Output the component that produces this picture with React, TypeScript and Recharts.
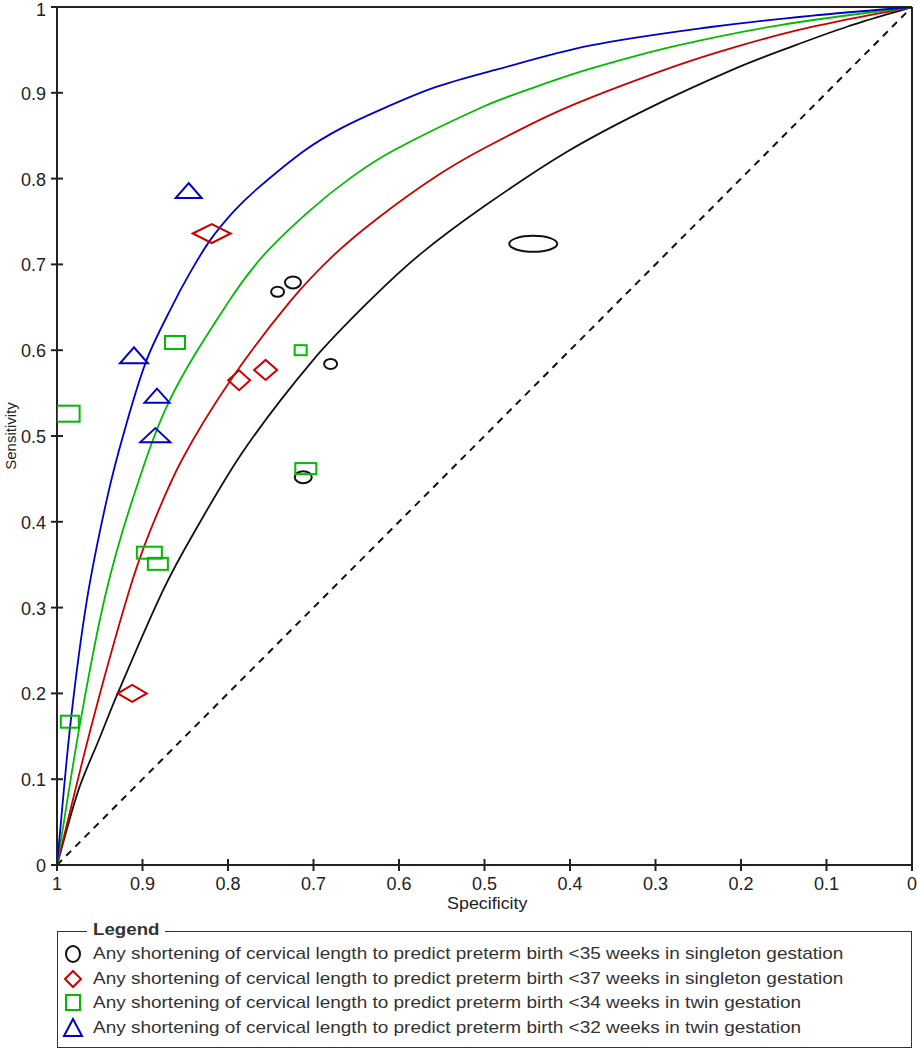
import React from "react";
import {
  ComposedChart,
  Line,
  Scatter,
  XAxis,
  YAxis,
  ReferenceLine,
} from "recharts";

// ---- Axis ticks ----
const axisTicks = [0, 0.1, 0.2, 0.3, 0.4, 0.5, 0.6, 0.7, 0.8, 0.9, 1];

// ---- SROC curves (specificity, sensitivity) ----
const blackCurveSpec = [1, 0.975, 0.951, 0.929, 0.876, 0.84, 0.781, 0.7, 0.634, 0.575, 0.5, 0.404, 0.31, 0.205, 0.143, 0.076, 0];
const blackCurveSens = [0, 0.087, 0.146, 0.2, 0.32, 0.387, 0.484, 0.589, 0.658, 0.712, 0.768, 0.831, 0.881, 0.929, 0.953, 0.977, 1];

const redCurveSpec = [1, 0.959, 0.917, 0.892, 0.854, 0.797, 0.728, 0.676, 0.626, 0.559, 0.501, 0.408, 0.283, 0.201, 0.116, 0];
const redCurveSens = [0, 0.165, 0.315, 0.387, 0.472, 0.565, 0.656, 0.711, 0.753, 0.801, 0.835, 0.881, 0.929, 0.955, 0.977, 1];

const greenCurveSpec = [1, 0.973, 0.944, 0.912, 0.868, 0.801, 0.758, 0.704, 0.655, 0.606, 0.501, 0.44, 0.373, 0.275, 0.154, 0];
const greenCurveSens = [0, 0.165, 0.312, 0.425, 0.542, 0.654, 0.711, 0.763, 0.802, 0.833, 0.884, 0.907, 0.929, 0.955, 0.979, 1];

const blueCurveSpec = [1, 0.984, 0.965, 0.942, 0.922, 0.895, 0.864, 0.844, 0.821, 0.793, 0.766, 0.71, 0.669, 0.62, 0.559, 0.49, 0.377, 0.233, 0.116, 0];
const blueCurveSens = [0, 0.167, 0.309, 0.425, 0.503, 0.589, 0.654, 0.691, 0.728, 0.762, 0.788, 0.833, 0.858, 0.881, 0.906, 0.926, 0.955, 0.977, 0.99, 1];

const diagSpec = [1, 0];
const diagSens = [0, 1];

// ---- Study estimates ----
// <35 weeks singleton (circles)
const s35Spec = [0.742, 0.724, 0.68, 0.712, 0.443];
const s35Sens = [0.668, 0.679, 0.584, 0.452, 0.724];
const s35WNeg = [13, 16, 13, 17, 48];
const s35WPos = [10, 12, 10, 12, 16];

// <37 weeks singleton (diamonds)
const s37Spec = [0.819, 0.787, 0.756, 0.912];
const s37Sens = [0.736, 0.565, 0.577, 0.2];
const s37WNeg = [38, 22, 23, 29];
const s37WPos = [19, 20, 20, 17];

// <34 weeks twin (rectangles)
const t34Spec = [0.862, 0.987, 0.715, 0.709, 0.892, 0.882, 0.985];
const t34Sens = [0.609, 0.526, 0.6, 0.462, 0.364, 0.351, 0.167];
const t34WNeg = [20, 23, 12, 21, 25, 20, 18];
const t34WPos = [13, 16, 10, 11, 12, 12, 12];

// <32 weeks twin (triangles)
const t32Spec = [0.846, 0.91, 0.883, 0.885];
const t32Sens = [0.786, 0.594, 0.547, 0.501];
const t32WNeg = [26, 28, 25, 30];
const t32WPos = [15, 16, 14, 14];

const legendLabels = [
  "Any shortening of cervical length to predict preterm birth <35 weeks in singleton gestation",
  "Any shortening of cervical length to predict preterm birth <37 weeks in singleton gestation",
  "Any shortening of cervical length to predict preterm birth <34 weeks in twin gestation",
  "Any shortening of cervical length to predict preterm birth <32 weeks in twin gestation",
];

const BLACK = "#111111";
const RED = "#cc0000";
const GREEN = "#00bb00";
const BLUE = "#0000cc";
const AXIS = "#222222";
const FONT = "'Liberation Sans', Arial, sans-serif";

const toCurve = (spec: number[], sens: number[]) =>
  spec.map((s, i) => ({ spec: s, sens: sens[i] }));
const toStudies = (spec: number[], sens: number[], wn: number[], wp: number[]) =>
  spec.map((s, i) => ({ spec: s, sens: sens[i], wn: wn[i], wp: wp[i] }));

const blackCurve = toCurve(blackCurveSpec, blackCurveSens);
const redCurve = toCurve(redCurveSpec, redCurveSens);
const greenCurve = toCurve(greenCurveSpec, greenCurveSens);
const blueCurve = toCurve(blueCurveSpec, blueCurveSens);
const diag = toCurve(diagSpec, diagSens);

const s35 = toStudies(s35Spec, s35Sens, s35WNeg, s35WPos);
const s37 = toStudies(s37Spec, s37Sens, s37WNeg, s37WPos);
const t34 = toStudies(t34Spec, t34Sens, t34WNeg, t34WPos);
const t32 = toStudies(t32Spec, t32Sens, t32WNeg, t32WPos);

// Chord-length Catmull-Rom style curve factory (passes through points, smooth)
const smoothCurve = (context: any) => {
  let pts: number[][] = [];
  return {
    areaStart() {},
    areaEnd() {},
    lineStart() {
      pts = [];
    },
    point(x: number, y: number) {
      pts.push([+x, +y]);
    },
    lineEnd() {
      const n = pts.length;
      if (!n) return;
      context.moveTo(pts[0][0], pts[0][1]);
      if (n === 1) return;
      const dist = (a: number[], b: number[]) => Math.hypot(b[0] - a[0], b[1] - a[1]);
      for (let i = 0; i < n - 1; i++) {
        const p1 = pts[i];
        const p2 = pts[i + 1];
        const p0 = i > 0 ? pts[i - 1] : p1;
        const p3 = i + 2 < n ? pts[i + 2] : p2;
        const d01 = dist(p0, p1);
        const d12 = dist(p1, p2);
        const d23 = dist(p2, p3);
        const k1 = d01 + d12 > 0 ? d12 / (d01 + d12) : 0;
        const k2 = d12 + d23 > 0 ? d12 / (d12 + d23) : 0;
        const t1 = [(p2[0] - p0[0]) * k1, (p2[1] - p0[1]) * k1];
        const t2 = [(p3[0] - p1[0]) * k2, (p3[1] - p1[1]) * k2];
        context.bezierCurveTo(
          p1[0] + t1[0] / 3,
          p1[1] + t1[1] / 3,
          p2[0] - t2[0] / 3,
          p2[1] - t2[1] / 3,
          p2[0],
          p2[1]
        );
      }
    },
  };
};

const fmt = (v: number) => (v === 0 ? "0" : v === 1 ? "1" : v.toFixed(1));

const YTick = (props: any) => {
  const { x, y, payload } = props;
  const dy = payload.value === 1 ? 9 : 7;
  return (
    <g>
      <line x1={x - 6} x2={x + 6} y1={y} y2={y} stroke={AXIS} strokeWidth={2} />
      <text x={x - 11} y={y} dy={dy} textAnchor="end" fontSize={18} fill="#222" fontFamily={FONT}>
        {fmt(payload.value)}
      </text>
    </g>
  );
};

const XTick = (props: any) => {
  const { x, y, payload } = props;
  return (
    <g>
      <line x1={x} x2={x} y1={y - 6} y2={y + 6} stroke={AXIS} strokeWidth={2} />
      <text x={x} y={y + 25} textAnchor="middle" fontSize={18} fill="#222" fontFamily={FONT}>
        {fmt(payload.value)}
      </text>
    </g>
  );
};

const EllipseShape = (p: any) => (
  <ellipse cx={p.cx} cy={p.cy} rx={p.payload.wn / 2} ry={p.payload.wp / 2} fill="none" stroke={BLACK} strokeWidth={2} />
);
const DiamondShape = (p: any) => {
  const w = p.payload.wn / 2;
  const h = p.payload.wp / 2;
  return (
    <polygon
      points={`${p.cx - w},${p.cy} ${p.cx},${p.cy - h} ${p.cx + w},${p.cy} ${p.cx},${p.cy + h}`}
      fill="none"
      stroke={RED}
      strokeWidth={2}
    />
  );
};
const RectShape = (p: any) => (
  <rect
    x={p.cx - p.payload.wn / 2}
    y={p.cy - p.payload.wp / 2}
    width={p.payload.wn}
    height={p.payload.wp}
    fill="none"
    stroke={GREEN}
    strokeWidth={2}
  />
);
const TriangleShape = (p: any) => {
  const w = p.payload.wn / 2;
  const h = p.payload.wp / 2;
  return (
    <polygon
      points={`${p.cx},${p.cy - h} ${p.cx - w},${p.cy + h} ${p.cx + w},${p.cy + h}`}
      fill="none"
      stroke={BLUE}
      strokeWidth={2}
    />
  );
};

const LegendIcon = ({ kind }: { kind: number }) => (
  <svg width={22} height={22} style={{ display: "block" }}>
    {kind === 0 && <ellipse cx={11} cy={11} rx={7} ry={8} fill="none" stroke={BLACK} strokeWidth={2} />}
    {kind === 1 && <polygon points="3,11 11,3 19,11 11,19" fill="none" stroke={RED} strokeWidth={2} />}
    {kind === 2 && <rect x={4} y={3} width={14} height={15} fill="none" stroke={GREEN} strokeWidth={2} />}
    {kind === 3 && <polygon points="11,2 2,19 20,19" fill="none" stroke={BLUE} strokeWidth={2} />}
  </svg>
);

export default function App() {
  return (
    <div style={{ position: "absolute", left: 0, top: 0, width: 917, height: 1050, background: "#fff", fontFamily: FONT }}>
      <ComposedChart width={917} height={900} margin={{ top: 7, right: 5, left: 0, bottom: 0 }}>
        <XAxis
          dataKey="spec"
          type="number"
          domain={[0, 1]}
          reversed
          ticks={axisTicks}
          interval={0}
          tickSize={0}
          tickMargin={0}
          height={35}
          axisLine={{ stroke: AXIS, strokeWidth: 2 }}
          tickLine={false}
          tick={<XTick />}
          allowDataOverflow
        />
        <YAxis
          dataKey="sens"
          type="number"
          domain={[0, 1]}
          ticks={axisTicks}
          interval={0}
          tickSize={0}
          tickMargin={0}
          width={57}
          axisLine={{ stroke: AXIS, strokeWidth: 2 }}
          tickLine={false}
          tick={<YTick />}
          allowDataOverflow
        />
        <ReferenceLine y={1} stroke={AXIS} strokeWidth={2} />
        <ReferenceLine x={0} stroke={AXIS} strokeWidth={2} />
        <Line data={diag} dataKey="sens" type="linear" stroke={BLACK} strokeWidth={2} strokeDasharray="7 6" dot={false} isAnimationActive={false} />
        <Line data={blackCurve} dataKey="sens" type={smoothCurve as any} stroke={BLACK} strokeWidth={1.8} dot={false} isAnimationActive={false} />
        <Line data={redCurve} dataKey="sens" type={smoothCurve as any} stroke={RED} strokeWidth={1.8} dot={false} isAnimationActive={false} />
        <Line data={greenCurve} dataKey="sens" type={smoothCurve as any} stroke={GREEN} strokeWidth={1.8} dot={false} isAnimationActive={false} />
        <Line data={blueCurve} dataKey="sens" type={smoothCurve as any} stroke={BLUE} strokeWidth={1.8} dot={false} isAnimationActive={false} />
        <Scatter data={s35} dataKey="sens" shape={EllipseShape} isAnimationActive={false} />
        <Scatter data={s37} dataKey="sens" shape={DiamondShape} isAnimationActive={false} />
        <Scatter data={t34} dataKey="sens" shape={RectShape} isAnimationActive={false} />
        <Scatter data={t32} dataKey="sens" shape={TriangleShape} isAnimationActive={false} />
      </ComposedChart>

      <div style={{ position: "absolute", left: 437, top: 894, width: 100, textAlign: "center", fontSize: 17, color: "#222", whiteSpace: "nowrap" }}>
        <span style={{ display: "inline-block", transform: "scaleX(1.05)" }}>Specificity</span>
      </div>
      <div
        style={{
          position: "absolute",
          left: 10,
          top: 436,
          transform: "translate(-50%, -50%) rotate(-90deg)",
          fontSize: 15,
          color: "#222",
          whiteSpace: "nowrap",
        }}
      >
        Sensitivity
      </div>

      <div
        style={{
          position: "absolute",
          left: 57,
          top: 931,
          width: 855,
          height: 117,
          border: "1.5px solid #333",
          boxSizing: "border-box",
        }}
      >
        <div
          style={{
            position: "absolute",
            left: 29,
            top: -12,
            padding: "0 12px 0 6px",
            background: "#fff",
            fontWeight: "bold",
            fontSize: 17,
            color: "#333",
            lineHeight: "20px",
          }}
        >
          <span style={{ display: "inline-block", transform: "scaleX(1.1)", transformOrigin: "left center" }}>Legend</span>
        </div>
        {legendLabels.map((label, i) => (
          <div
            key={i}
            style={{
              position: "absolute",
              left: 4,
              top: 10 + i * 24.6,
              display: "flex",
              alignItems: "center",
              height: 24,
              fontSize: 17,
              color: "#333",
              whiteSpace: "nowrap",
            }}
          >
            <LegendIcon kind={i} />
            <span
              style={{
                marginLeft: 9,
                display: "inline-block",
                transform: "scaleX(1.116)",
                transformOrigin: "left center",
              }}
            >
              {label}
            </span>
          </div>
        ))}
      </div>
    </div>
  );
}
